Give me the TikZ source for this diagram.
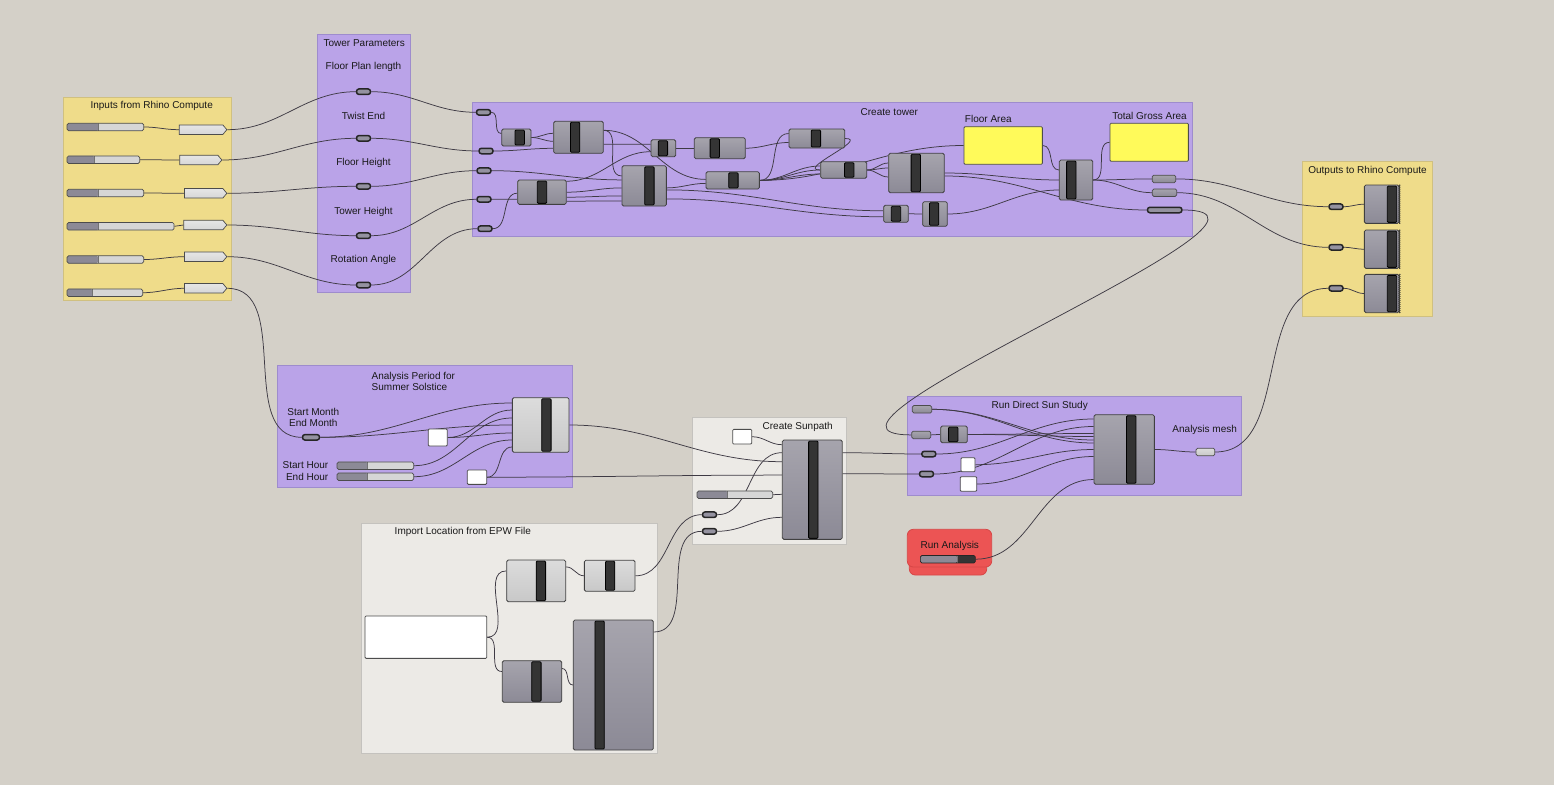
\documentclass[tikz,border=0pt]{standalone}
\usepackage{fontspec}
\setmainfont{Liberation Sans}
\usepackage{tikz}
\usepackage{xcolor}
\usetikzlibrary{shapes,shapes.symbols,positioning,calc,decorations.pathmorphing}
\definecolor{canvasbg}{RGB}{212,208,200}
\definecolor{ylwgrp}{RGB}{239,220,138}
\definecolor{ylwline}{RGB}{208,192,128}
\definecolor{prpgrp}{RGB}{186,163,232}
\definecolor{prpline}{RGB}{158,140,205}
\definecolor{whtgrp}{RGB}{236,234,230}
\definecolor{whtline}{RGB}{196,194,190}
\definecolor{redgrp}{RGB}{236,84,84}
\definecolor{redline}{RGB}{215,70,70}
\definecolor{comptop}{RGB}{166,164,173}
\definecolor{compbot}{RGB}{140,138,150}
\definecolor{lighttop}{RGB}{220,220,220}
\definecolor{lightbot}{RGB}{200,200,200}
\definecolor{barfill}{RGB}{52,52,52}
\definecolor{wirecol}{RGB}{62,58,68}
\definecolor{panelylw}{RGB}{255,250,90}
\definecolor{sliderdark}{RGB}{140,138,150}
\definecolor{sliderlight}{RGB}{214,214,214}
\definecolor{capfill}{RGB}{148,146,160}
\pgfdeclarelayer{groups}
\pgfdeclarelayer{wires}
\pgfsetlayers{groups,wires,main}
\tikzset{baroff/.store in=\baroff, baroff=0pt, knob/.store in=\knobw, knob=31pt}
\tikzstyle{comp} = [
    rectangle,
    rounded corners=1.5pt,
    draw=black!75,
    line width=0.8pt,
    top color=comptop,
    bottom color=compbot,
    inner sep=0pt,
    path picture={
        \draw[fill=barfill, draw=black, rounded corners=1pt, line width=0.8pt]
            ([xshift=\baroff-4.7pt, yshift=-1pt]path picture bounding box.north)
            rectangle ([xshift=\baroff+4.7pt, yshift=1pt]path picture bounding box.south);
    }
]
\tikzstyle{lcomp} = [
    comp,
    top color=lighttop,
    bottom color=lightbot
]
\tikzstyle{slider} = [
    rectangle,
    rounded corners=1.5pt,
    draw=black!70,
    line width=0.7pt,
    fill=sliderlight,
    minimum height=7.5pt,
    inner sep=0pt,
    path picture={
        \fill[sliderdark] (path picture bounding box.south west)
            rectangle ([xshift=\knobw]path picture bounding box.north west);
        \draw[black!55, line width=0.6pt] ([xshift=\knobw]path picture bounding box.south west)
            -- ([xshift=\knobw]path picture bounding box.north west);
    }
]
\tikzstyle{toggle} = [
    slider,
    fill=barfill,
    draw=black!85
]
\tikzstyle{relay} = [
    signal,
    signal to=east,
    signal pointer angle=100,
    draw=black!70,
    line width=0.7pt,
    top color=gray!20,
    bottom color=gray!32,
    minimum height=9.5pt,
    inner sep=0pt
]
\tikzstyle{pcap} = [
    rectangle,
    rounded corners=2.5pt,
    draw=black!85,
    line width=1.5pt,
    fill=capfill,
    minimum width=14pt,
    minimum height=5.5pt,
    inner sep=0pt
]
\tikzstyle{param} = [
    rectangle,
    rounded corners=1.5pt,
    draw=black!70,
    line width=0.7pt,
    top color=comptop,
    bottom color=compbot,
    minimum height=7.5pt,
    inner sep=0pt
]
\tikzstyle{panel} = [
    rectangle,
    rounded corners=1pt,
    draw=black!70,
    line width=0.8pt,
    fill=white,
    inner sep=0pt
]
\tikzstyle{lbl} = [
    font=\fontsize{10}{11}\selectfont,
    text=black!90,
    inner sep=0pt
]
\tikzstyle{grp} = [
    line width=0.8pt
]
\tikzstyle{wire} = [
    draw=wirecol,
    line width=0.75pt
]

\begin{document}
\begin{tikzpicture}[x=1pt, y=-1pt]
\useasboundingbox (0,0) rectangle (1554,784);
% groups
\begin{pgfonlayer}{groups}
    \fill[canvasbg] (-6,-6) rectangle (1560,790);
    \draw[grp, fill=ylwgrp, draw=ylwline] (63,97) rectangle (231,300);
    \draw[grp, fill=prpgrp, draw=prpline] (317,34) rectangle (410,292);
    \draw[grp, fill=prpgrp, draw=prpline] (472,102) rectangle (1192,236);
    \draw[grp, fill=ylwgrp, draw=ylwline] (1302.7,161) rectangle (1432.3,316.7);
    \draw[grp, fill=prpgrp, draw=prpline] (277.3,365) rectangle (572.7,487.7);
    \draw[grp, fill=whtgrp, draw=whtline] (692.3,417.3) rectangle (846.7,544);
    \draw[grp, fill=whtgrp, draw=whtline] (361.7,523.3) rectangle (657.7,753.3);
    \draw[grp, fill=prpgrp, draw=prpline] (907.3,396) rectangle (1241.7,495);
    \draw[grp, fill=redgrp, draw=redline, rounded corners=6pt] (909.3,545) rectangle (986.7,575);
    \draw[grp, fill=redgrp, draw=redline, rounded corners=6pt] (907.3,529.3) rectangle (991.7,567);
\end{pgfonlayer}

% group titles
\node[lbl] (gInputs) at (151.7,106) {Inputs from Rhino Compute};
\node[lbl] (gTower) at (364.2,43.5) {Tower Parameters};
\node[lbl] (gCreate) at (889.3,112.3) {Create tower};
\node[lbl] (gOutputs) at (1367.5,170.7) {Outputs to Rhino Compute};
\node[lbl, anchor=west, align=left] (gPeriod) at (371.5,381.5) {Analysis Period for\\Summer Solstice};
\node[lbl] (gSunpath) at (797.7,427.3) {Create Sunpath};
\node[lbl] (gEpw) at (462.8,532.3) {Import Location from EPW File};
\node[lbl] (gSunStudy) at (1039.7,405.7) {Run Direct Sun Study};
\node[lbl] (gRun) at (949.8,546) {Run Analysis};

% inputs from rhino compute
\foreach \i/\y/\w/\k in {1/127/76.6/31.6, 2/159.7/72.6/27.6, 3/193/76.6/31, 4/226.3/107/31.6, 5/259.5/76.6/31, 6/292.7/75.6/25.6} {
    \node[slider, anchor=west, minimum width=\w pt, knob=\k pt] (sl\i) at (66.7,\y) {};
}
\foreach \i/\x/\y/\w in {1/227.3/129.7/47.6, 2/222.3/160/42, 3/227.3/193.3/42.3, 4/227.3/225/43, 5/227.3/256.7/42.3, 6/227.3/288.3/42.3} {
    \node[relay, anchor=east, minimum width=\w pt] (rl\i) at (\x,\y) {};
}

% tower parameters
\foreach \i/\t/\ly/\cy in {1/Floor Plan length/67/91.7, 2/Twist End/116/138.3, 3/Floor Height/163/186.3, 4/Tower Height/211.5/235.7, 5/Rotation Angle/260/285} {
    \node[lbl] (tpl\i) at (363.5,\ly) {\t};
    \node[pcap] (tp\i) at (363.5,\cy) {};
}

% create tower
\foreach \i/\x/\y in {1/483.5/112.3, 2/486/151, 3/484/170.7, 4/484/199.3, 5/485/228.7} {
    \node[pcap] (ct\i) at (\x,\y) {};
}
\foreach \n/\x/\y/\w/\h/\bo in {
    t1/516.4/137.5/29.3/17/3.3pt,
    t2/578.5/137.3/49.6/32/-3.4pt,
    t3/663.4/148.2/24.7/17/-0.5pt,
    t4/719.8/148.2/51/21/-5pt,
    t5/816.9/138.5/55.7/19/-1pt,
    t6/644.2/185.9/44.3/40.3/5.2pt,
    t7/542/192.2/48.6/24.3/0pt,
    t8/732.7/180.4/53.3/17.3/0.7pt,
    t9/843.7/170/46/16.6/5.5pt,
    t10/916.5/173/55.6/39.4/-0.7pt,
    t11/1076/180/33.4/40/-4.7pt,
    t12/896/213.8/24.6/17/0pt,
    t13/935/214/24.6/24.6/-0.9pt
} {
    \node[comp, minimum width=\w pt, minimum height=\h pt, baroff=\bo] (\n) at (\x,\y) {};
}
\node[lbl] (lFloor) at (988.3,119) {Floor Area};
\node[panel, fill=panelylw, minimum width=78.3pt, minimum height=37.6pt] (pa1) at (1003.2,145.5) {};
\node[lbl] (lTotal) at (1149.5,115.7) {Total Gross Area};
\node[panel, fill=panelylw, minimum width=78.3pt, minimum height=38pt] (pa2) at (1149.2,142.3) {};
\node[param, minimum width=23.4pt] (o1) at (1164,178.9) {};
\node[param, minimum width=24.4pt] (o2) at (1164.5,192.7) {};
\node[pcap, minimum width=34.5pt] (o3) at (1164.7,210) {};

% outputs to rhino compute
\foreach \i/\y/\cy in {1/204.2/206.7, 2/249.2/247.3, 3/293.5/288.3} {
    \node[pcap] (oc\i) at (1336,\cy) {};
    \node[comp, minimum width=34.7pt, minimum height=38.3pt, baroff=10.3pt] (oo\i) at (1381.7,\y) {};
    \draw[decorate, decoration={zigzag, amplitude=0.7pt, segment length=2pt}, black!80, line width=0.6pt]
        (oo\i.north east) -- (oo\i.south east);
}

% analysis period
\node[lbl, align=center] (apl1) at (313.3,417.2) {Start Month\\End Month};
\node[pcap, minimum width=17pt] (ac) at (311,437.3) {};
\node[panel, minimum width=19pt, minimum height=17pt] (aw1) at (437.8,437.5) {};
\node[lcomp, minimum width=56.7pt, minimum height=54.6pt, baroff=5.7pt] (ap) at (540.7,425) {};
\node[lbl, anchor=east] (apl2) at (328.5,465.3) {Start Hour};
\node[lbl, anchor=east] (apl3) at (328.5,477.3) {End Hour};
\node[slider, anchor=west, minimum width=76.6pt, knob=30.6pt] (ash1) at (336.7,465.7) {};
\node[slider, anchor=west, minimum width=76.6pt, knob=30.6pt] (ash2) at (336.7,476.7) {};
\node[panel, minimum width=19.4pt, minimum height=14.3pt] (aw2) at (477,477.2) {};

% create sunpath
\node[panel, minimum width=19pt, minimum height=14.7pt] (sw) at (742.2,436.7) {};
\node[slider, anchor=west, minimum width=75.6pt, knob=30.6pt] (ssl) at (696.7,494.7) {};
\node[pcap] (sc1) at (709.5,514.7) {};
\node[pcap] (sc2) at (709.5,531.3) {};
\node[comp, minimum width=60pt, minimum height=99.3pt, baroff=1pt] (sp) at (812.3,489.7) {};

% import location from epw file
\node[panel, minimum width=121.7pt, minimum height=42.3pt] (ew) at (425.9,637.2) {};
\node[lcomp, minimum width=59pt, minimum height=41.7pt, baroff=4.7pt] (e1) at (536.2,580.9) {};
\node[lcomp, minimum width=50.7pt, minimum height=31pt, baroff=0.4pt] (e2) at (609.7,575.8) {};
\node[comp, minimum width=59.4pt, minimum height=41.6pt, baroff=4.4pt] (e3) at (532,681.5) {};
\node[comp, minimum width=80pt, minimum height=130pt, baroff=-13.7pt] (e4) at (613.3,685) {};

% run direct sun study
\node[param, minimum width=19.4pt] (rp1) at (922,409.3) {};
\node[param, minimum width=19pt] (rp2) at (921.2,434.9) {};
\node[comp, minimum width=26.6pt, minimum height=16.7pt, baroff=-0.8pt] (rc) at (954,434.4) {};
\node[pcap] (rs1) at (928.8,454) {};
\node[pcap] (rs2) at (926.5,474) {};
\node[panel, minimum width=14pt, minimum height=14pt] (rw1) at (968,464.7) {};
\node[panel, minimum width=16.4pt, minimum height=14.6pt] (rw2) at (968.5,484) {};
\node[comp, minimum width=60.3pt, minimum height=69.6pt, baroff=7pt] (rd) at (1124.2,449.5) {};
\node[lbl] (lMesh) at (1204.7,430) {Analysis mesh};
\node[param, minimum width=18.7pt, top color=lighttop, bottom color=lightbot] (rm) at (1205.4,452) {};
\node[toggle, anchor=west, minimum width=55pt, knob=36.7pt] (rt) at (920,559.2) {};

% wires
\begin{pgfonlayer}{wires}
    \foreach \i in {1,...,6} {
        \draw[wire] (sl\i.east) to[out=0,in=180] (rl\i.west);
    }
    \foreach \i in {1,...,5} {
        \draw[wire] (rl\i.east) to[out=0,in=180] (tp\i.west);
        \draw[wire] (tp\i.east) to[out=0,in=180] (ct\i.west);
    }
    \draw[wire] (rl6.east) to[out=0,in=180] (ac.west);
    % create tower
    \draw[wire] (ct1.east) to[out=0,in=180] ($(t1.west)+(0,-4)$);
    \draw[wire] (t1.east) to[out=0,in=180] ($(t2.west)+(0,-4)$);
    \draw[wire] (t1.east) to[out=0,in=180] ($(t2.west)+(0,4)$);
    \draw[wire] (ct2.east) to[out=0,in=180] ($(t2.west)+(0,11)$);
    \draw[wire] ($(t2.east)+(0,-7)$) to[out=0,in=180] ($(t6.west)+(0,-10)$);
    \draw[wire] ($(t2.east)+(0,-7)$) to[out=0,in=180] ($(t8.west)+(0,-1)$);
    \draw[wire] ($(t2.east)+(0,7)$) to[out=0,in=180] ($(t3.west)+(0,-4)$);
    \draw[wire] (t3.east) to[out=0,in=180] (t4.west);
    \draw[wire] (ct3.east) to[out=0,in=180] ($(t6.west)+(0,-6)$);
    \draw[wire] ($(t7.east)+(0,-11)$) to[out=0,in=180] ($(t3.west)+(0,3.5)$);
    \draw[wire] (ct4.east) to[out=0,in=180] ($(t7.west)+(0,7)$);
    \draw[wire] (ct5.east) to[out=0,in=180] ($(t7.west)+(0,1)$);
    \foreach \a/\b in {0/2, 5/10, 9/15} {
        \draw[wire] ($(t7.east)+(0,\a)$) to[out=0,in=180] ($(t6.west)+(0,\b)$);
    }
    \draw[wire] ($(t6.east)+(0,2)$) to[out=0,in=180] ($(t8.west)+(0,3)$);
    \draw[wire] ($(t6.east)+(0,4)$) to[out=0,in=180] ($(t12.west)+(0,-3)$);
    \draw[wire] ($(t6.east)+(0,13)$) to[out=0,in=180] ($(t12.west)+(0,3)$);
    \draw[wire] (t4.east) to[out=0,in=180] ($(t5.west)+(0,4)$);
    \draw[wire] (t8.east) to[out=0,in=180] ($(t5.west)+(0,-5)$);
    \draw[wire] (t5.east) .. controls +(25,0) and +(-25,0) .. (t9.west);
    \foreach \b in {-4,0,4} {
        \draw[wire] (t8.east) to[out=0,in=180] ($(t9.west)+(0,\b)$);
    }
    \draw[wire] (t8.east) to[out=0,in=180] (pa1.west);
    \foreach \b in {-10,-5,4} {
        \draw[wire] (t9.east) to[out=0,in=180] ($(t10.west)+(0,\b)$);
    }
    \draw[wire] (t10.east) to[out=0,in=180] (t11.west);
    \draw[wire] ($(t10.east)+(0,3)$) to[out=0,in=180] (o3.west);
    \draw[wire] (pa1.east) to[out=0,in=180] ($(t11.west)+(0,-10)$);
    \draw[wire] (t13.east) to[out=0,in=180] ($(t11.west)+(0,10)$);
    \draw[wire] (t12.east) to[out=0,in=180] (t13.west);
    \draw[wire] (t11.east) to[out=0,in=180] (pa2.west);
    \draw[wire] (t11.east) to[out=0,in=180] (o1.west);
    \draw[wire] (t11.east) to[out=0,in=180] (o2.west);
    \draw[wire] (o1.east) to[out=0,in=180] (oc1.west);
    \draw[wire] (o2.east) to[out=0,in=180] (oc2.west);
    \draw[wire] (o3.east) .. controls +(150,0) and +(-150,0) .. (rp2.west);
    \foreach \i in {1,2,3} {
        \draw[wire] (oc\i.east) to[out=0,in=180] (oo\i.west);
    }
    % analysis period
    \draw[wire] (ac.east) to[out=0,in=180] ($(ap.west)+(0,-22)$);
    \draw[wire] (ac.east) to[out=0,in=180] (ap.west);
    \draw[wire] (aw1.east) to[out=0,in=180] ($(ap.west)+(0,-15)$);
    \draw[wire] (aw1.east) to[out=0,in=180] ($(ap.west)+(0,8)$);
    \draw[wire] (ash1.east) to[out=0,in=180] ($(ap.west)+(0,-7)$);
    \draw[wire] (ash2.east) to[out=0,in=180] ($(ap.west)+(0,15)$);
    \draw[wire] (aw2.east) to[out=0,in=180] ($(ap.west)+(0,22)$);
    \draw[wire] (ap.east) to[out=0,in=180] ($(sp.west)+(0,-28)$);
    \draw[wire] (aw2.east) to[out=0,in=180] ($(sp.west)+(0,-14.6)$);
    % sunpath
    \draw[wire] (sw.east) to[out=0,in=180] ($(sp.west)+(0,-45)$);
    \draw[wire] (sc1.east) to[out=0,in=180] ($(sp.west)+(0,-37)$);
    \draw[wire] (ssl.east) to[out=0,in=180] ($(sp.west)+(0,4.6)$);
    \draw[wire] (sc2.east) to[out=0,in=180] ($(sp.west)+(0,27.6)$);
    \draw[wire] ($(sp.east)+(0,-37)$) to[out=0,in=180] (rs1.west);
    \draw[wire] ($(sp.east)+(0,-16)$) to[out=0,in=180] (rs2.west);
    % epw
    \draw[wire] (ew.east) to[out=0,in=180] ($(e1.west)+(0,-10)$);
    \draw[wire] (ew.east) to[out=0,in=180] ($(e3.west)+(0,-10)$);
    \draw[wire] ($(e1.east)+(0,-14)$) to[out=0,in=180] (e2.west);
    \draw[wire] ($(e3.east)+(0,-13)$) to[out=0,in=180] (e4.west);
    \draw[wire] (e2.east) to[out=0,in=180] (sc1.west);
    \draw[wire] ($(e4.east)+(0,-53)$) to[out=0,in=180] (sc2.west);
    % direct sun study
    \draw[wire] (rp1.east) to[out=0,in=180] ($(rd.west)+(0,-9.5)$);
    \draw[wire] (rp1.east) to[out=0,in=180] ($(rd.west)+(0,-6.5)$);
    \draw[wire] (rp2.east) to[out=0,in=180] (rc.west);
    \draw[wire] (rc.east) to[out=0,in=180] ($(rd.west)+(0,-16)$);
    \draw[wire] (rc.east) to[out=0,in=180] ($(rd.west)+(0,-13)$);
    \draw[wire] (rs1.east) to[out=0,in=180] ($(rd.west)+(0,-30.5)$);
    \draw[wire] (rs2.east) to[out=0,in=180] ($(rd.west)+(0,-23)$);
    \draw[wire] (rw1.east) to[out=0,in=180] (rd.west);
    \draw[wire] (rw2.east) to[out=0,in=180] ($(rd.west)+(0,7)$);
    \draw[wire] (rt.east) to[out=0,in=180] ($(rd.west)+(0,30)$);
    \draw[wire] (rd.east) to[out=0,in=180] (rm.west);
    \draw[wire] (rm.east) to[out=0,in=180] (oc3.west);
\end{pgfonlayer}
\end{tikzpicture}
\end{document}
